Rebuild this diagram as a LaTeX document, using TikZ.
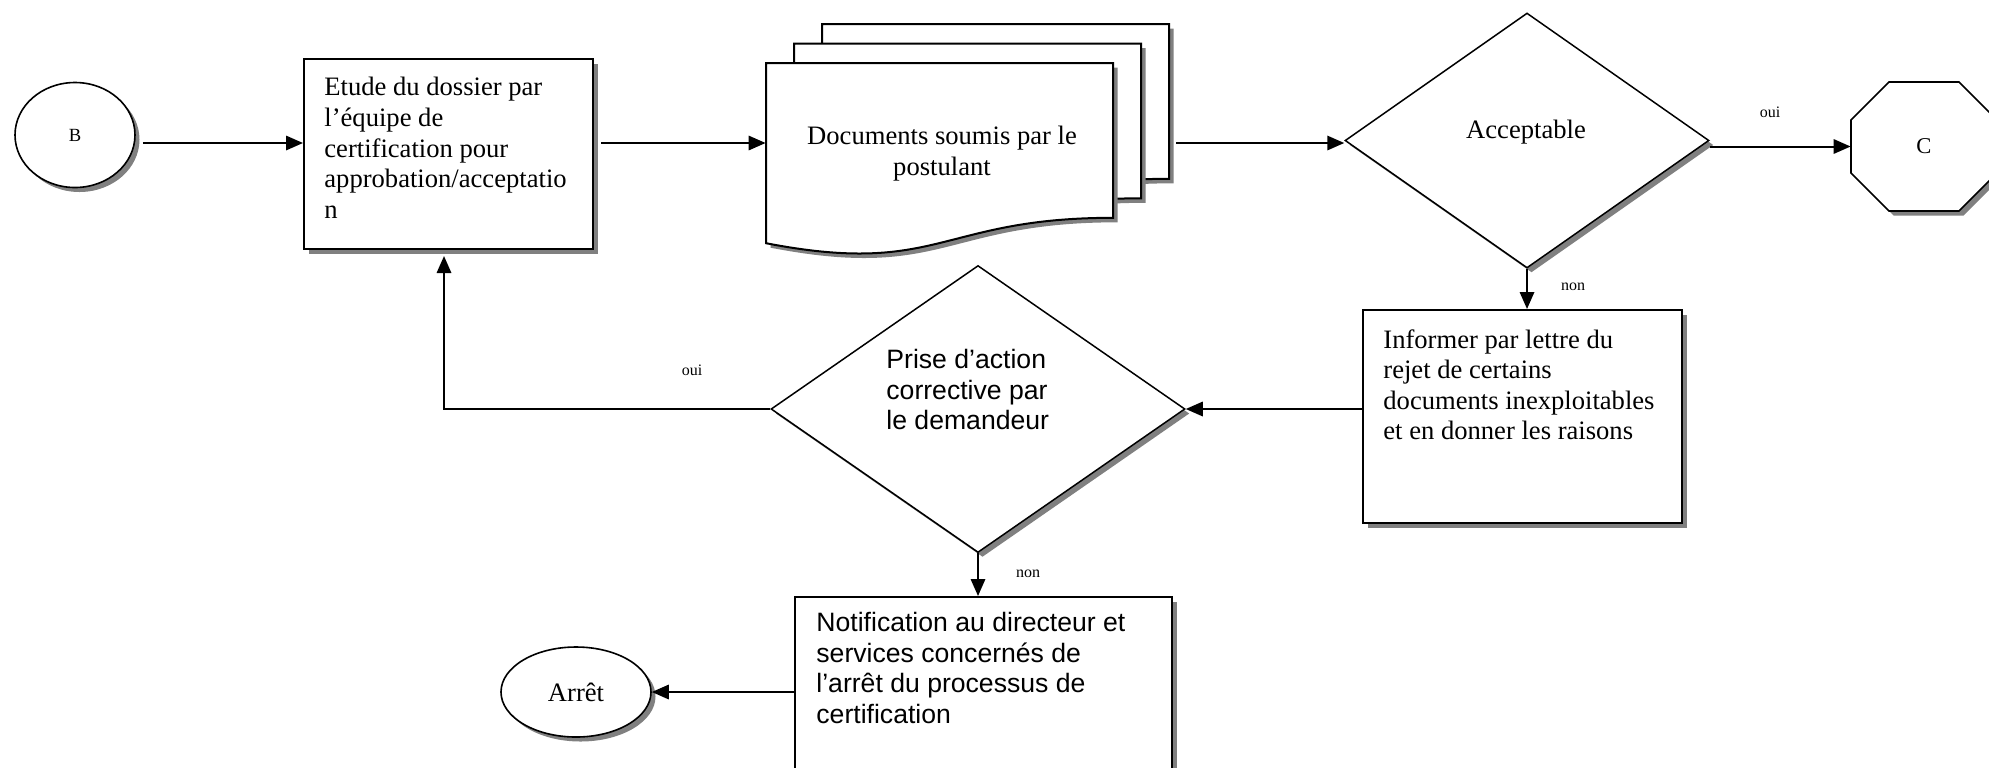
\documentclass[tikz,border=0pt]{standalone}
\usepackage{fontspec}
\setmainfont{Liberation Serif}
\setsansfont{Liberation Sans}
\usetikzlibrary{shapes.geometric,shadows,arrows.meta}
\begin{document}
\begin{tikzpicture}[x=0.5pt,y=-0.5pt,
  shad/.style={drop shadow={shadow xshift=2.25pt,shadow yshift=-2.25pt,fill=black!50,opacity=1}},
  boxsty/.style={draw,fill=white,line width=1pt,inner sep=0pt,shad},
  diasty/.style={diamond,draw,fill=white,line width=0.75pt,inner sep=0pt,shad},
  ellsty/.style={ellipse,draw,fill=white,line width=0.8pt,inner sep=0pt,shad},
  docsty/.style={draw,fill=white,line width=1pt,shad},
  txt/.style={inner sep=0pt,align=left,font=\fontsize{13.3}{15.3}\selectfont},
  stxt/.style={inner sep=0pt,align=left,font=\sffamily\fontsize{13.3}{15.3}\selectfont},
  lbl/.style={inner sep=0pt,font=\fontsize{8}{9.6}\selectfont},
  arr/.style={-{Triangle[length=8.5pt,width=7.2pt]},line width=1pt}]
\useasboundingbox (0,0) rectangle (1989,767);
\clip (0,0) rectangle (1989,767);

% start connector B
\node[ellsty,minimum width=60pt,minimum height=52.5pt,font=\fontsize{9.3}{11}\selectfont] (B) at (75,135) {B};

% study box
\node[boxsty,minimum width=144.5pt,minimum height=95pt] (box1) at (448.5,154) {};
\node[txt,anchor=north west] (t1) at (324,77) {Etude du dossier par\\l’équipe de\\certification pour\\approbation/acceptatio\\n};

% documents stack
\draw[docsty] (822,24) -- (1169,24) -- (1169,178.8) .. controls (995.5,178.8) and (995.5,237.7) .. (822,204.2) -- cycle;
\draw[docsty] (794,43.5) -- (1141,43.5) -- (1141,198.3) .. controls (967.5,198.3) and (967.5,257.2) .. (794,223.7) -- cycle;
\draw[docsty] (766,63) -- (1113,63) -- (1113,217.8) .. controls (939.5,217.8) and (939.5,276.7) .. (766,243.2) -- cycle;
\node[inner sep=0pt,minimum width=205pt,minimum height=119pt] (docs) at (971,143) {};
\node[txt,align=center,anchor=north] (t2) at (942,126) {Documents soumis par le\\postulant};

% acceptable decision
\node[diasty,minimum width=182pt,minimum height=127.5pt] (acc) at (1527,140.5) {};
\node[txt,anchor=base] (tacc) at (1526,138) {Acceptable};

% connector C (octagon)
\draw[docsty,line width=0.8pt] (1851,120) -- (1889,82) -- (1959,82) -- (1997,120) -- (1997,173) -- (1959,211) -- (1889,211) -- (1851,173) -- cycle;
\node[inner sep=0pt,minimum width=73pt,minimum height=64.5pt,font=\fontsize{11.3}{13}\selectfont] (C) at (1924,146.5) {C};

% inform box
\node[boxsty,minimum width=159.5pt,minimum height=106.5pt] (inf) at (1522.5,416.5) {};
\node[txt,anchor=north west] (t3) at (1383,329) {Informer par lettre du\\rejet de certains\\documents inexploitables\\et en donner les raisons};

% corrective action decision
\node[diasty,minimum width=207pt,minimum height=143.5pt] (prise) at (978,409) {};
\node[stxt,anchor=north west] (t4) at (886,349) {Prise d’action\\corrective par\\le demandeur};

% notification box
\node[boxsty,minimum width=188.5pt,minimum height=96.5pt] (notif) at (983.5,693.5) {};
\node[stxt,anchor=north west] (t5) at (816,612) {Notification au directeur et\\services concernés de\\l’arrêt du processus de\\certification};

% stop
\node[ellsty,minimum width=75pt,minimum height=45pt,font=\fontsize{13.3}{15.3}\selectfont] (arret) at (576,692) {Arrêt};

% connectors
\coordinate (back) at (444,256);
\draw[arr] ([xshift=3.5pt]B.east |- docs) -- (box1.west |- docs);
\draw[arr] ([xshift=3.5pt]box1.east |- docs) -- (docs.west);
\draw[arr] (docs.east) -- (acc.west |- docs);
\draw[arr] (acc.east |- C) -- (C.west);
\node[lbl] (oui1) at (1770,112) {oui};
\draw[arr] (acc.south) -- (acc.south |- inf.north);
\node[lbl] (non1) at (1573,287) {non};
\draw[arr] (inf.west |- prise) -- (prise.east);
\draw[arr] (prise.west) -| (back);
\node[lbl] (oui2) at (692,370) {oui};
\draw[arr] (prise.south) -- (prise.south |- notif.north);
\node[lbl] (non2) at (1028,574) {non};
\draw[arr] (notif.west |- arret) -- (arret.east);
\end{tikzpicture}
\end{document}
